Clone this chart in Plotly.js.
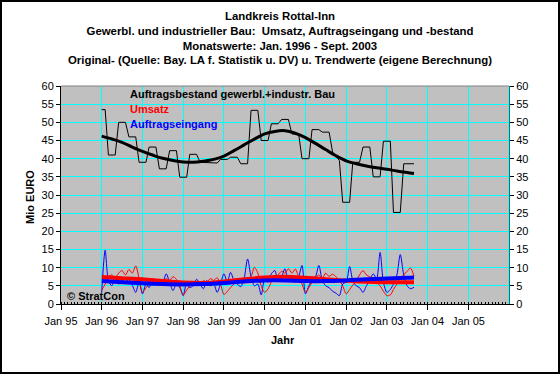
<!DOCTYPE html>
<html>
<head>
<meta charset="utf-8">
<script src="https://cdn.plot.ly/plotly-3.0.1.min.js"></script>
<style>
html,body{margin:0;padding:0;background:#fff;}
#chart{width:556px;height:370px;border:2px solid #000;}
</style>
</head>
<body>
<div id="chart"></div>
<script>
// ---- data (monthly values, Jan 1996 .. Sept 2003) ----
const startYear = 1996;
const monthCount = 93;

const auftragsbestand = [
  53.5, 53.5,
  41, 41, 41,   50, 50, 50,   46, 46, 46,   39, 39, 39,
  43.2, 43.2, 43.2,   37.2, 37.2, 37.2,   42.2, 42.2, 42.2,   34.9, 34.9, 34.9,
  41.2, 41.2, 41.2,   39, 39, 39,   38.8, 38.8, 38.8,   39.8, 39.8, 39.8,
  40.4, 40.4, 40.4,   38.6, 38.6, 38.6,   53.3, 53.3, 53.3,   45, 45, 45,
  49.6, 49.6, 49.6,   50.8, 50.8, 50.8,   46.8, 46.8, 46.8,   40, 40, 40,
  48, 48, 48,   47.3, 47.3, 47.3,   41.8, 40.6, 39.5,   28, 28, 28,
  39, 39, 39,   43.2, 43.2, 43.2,   35, 35, 35,   44.8, 44.8, 44.8,
  25.2, 25.2, 25.2,   38.6, 38.6, 38.6,
  38.6
];

const umsatz = [
  3.8, 5.5, 7.5, 8, 7.2, 8.5, 9.2, 8, 9.5, 8.5, 10.5, 7,
  3.2, 4.5, 5.5, 6.5, 6, 6.8, 6.2, 7, 6.5, 7.5, 6.8, 5,
  2.5, 3.8, 5, 5.8, 6.2, 5.5, 6.5, 6, 7, 6.5, 7.2, 5.5,
  2.6, 3.5, 4.5, 5.5, 6.5, 6, 7, 6.8, 7.5, 10.1, 8.5, 5,
  3.2, 4.2, 6, 7, 8, 9, 8.5, 9.7, 8.5, 9.6, 7.5, 5.5,
  3.2, 4.5, 6, 7.2, 8, 7, 8.5, 7.6, 8.2, 7.5, 6.5, 5,
  2.8, 4, 5.2, 6.5, 8, 9.2, 8, 7.5, 7, 6, 5, 3.5,
  2.3, 2.5, 4, 5.5, 7, 8, 9, 9.9, 7.6
];

const auftragseingang = [
  3.2, 14.8, 6.5, 5, 7.5, 5.5, 6.5, 5.8, 6.8, 5.2, 3.2, 6,
  2.8, 5.5, 4.5, 6.8, 5.2, 6.5, 6, 8.3, 6, 3.7, 5.5, 4.5,
  2.3, 6, 4.5, 5.1, 6.8, 5.5, 4.2, 6.5, 5, 5.5, 3.2, 5.5,
  8.3, 6, 8.7, 6.5, 5.5, 4.8, 7, 12.4, 7.5, 5, 5.5, 2.5,
  6.8, 6, 8.3, 9.2, 6.4, 7.5, 9.7, 6.4, 7, 6, 7.5, 10.6,
  2.8, 5, 6.5, 7.5, 10.6, 6.5, 5, 4.5, 3.5, 3, 2.3, 5.5,
  6, 10.3, 6.5, 5, 4.5, 3.2, 5, 6.5, 8.3, 7, 14.2, 6,
  3.2, 4, 5.5, 8, 13.6, 8, 5, 4.2, 4.6
];

// trend values (read at sample months, index from Jan 1996)
const bestandTrendMonths = [0,3,6,9,12,15,18,21,24,27,30,33,36,39,42,45,48,51,54,57,60,63,66,69,72,75,78,81,84,87,90,92];
const bestandTrend = [46.2,45.4,44.5,43.2,42,41,40.1,39.5,39.1,39,39.3,39.8,40.7,42.2,43.8,45.4,46.8,47.5,47.7,47,45.8,44.2,42.5,40.8,39.4,38.6,38,37.5,37.1,36.6,36.2,35.9];

const smallTrendMonths = [0,6,12,18,24,30,36,42,48,54,60,66,72,78,84,90,92];
const umsatzTrend = [7.4,7.1,6.8,6.3,5.9,5.8,6.2,6.8,7.3,7.5,7.2,6.8,6.4,6.1,6.0,6.0,6.0];
const eingangTrend = [6.3,6.0,5.7,5.5,5.4,5.5,5.8,6.2,6.5,6.5,6.3,6.3,6.5,6.8,7.0,7.2,7.3];

const titleLines = [
  "Landkreis Rottal-Inn",
  "Gewerbl. und industrieller Bau:  Umsatz, Auftragseingang und -bestand",
  "Monatswerte: Jan. 1996 - Sept. 2003",
  "Original- (Quelle: Bay. LA f. Statistik u. DV) u. Trendwerte (eigene Berechnung)"
];
const seriesNames = ["Auftragsbestand gewerbl.+industr. Bau", "Umsatz", "Auftragseingang"];
const xTitle = "Jahr";
const yTitle = "Mio EURO";
const credit = "© StratCon";

// ---- helpers ----
function monthDate(i) {
  const d = new Date(Date.UTC(startYear, i, 1));
  return d.getUTCFullYear() + "-" + String(d.getUTCMonth() + 1).padStart(2, "0") + "-01";
}
const months = [];
for (let i = 0; i < monthCount; i++) months.push(monthDate(i));
const toDates = arr => arr.map(monthDate);

const FONT = "Liberation Sans, Arial, sans-serif";

const traces = [
  {x: months, y: auftragseingang, type: "scatter", mode: "lines",
   line: {color: "#0000ff", width: 1, shape: "spline", smoothing: 0.8}, hoverinfo: "skip"},
  {x: months, y: umsatz, type: "scatter", mode: "lines",
   line: {color: "#ff0000", width: 1, shape: "spline", smoothing: 0.8}, hoverinfo: "skip"},
  {x: toDates(smallTrendMonths), y: umsatzTrend, type: "scatter", mode: "lines",
   line: {color: "#ff0000", width: 4, shape: "spline"}, hoverinfo: "skip"},
  {x: toDates(smallTrendMonths), y: eingangTrend, type: "scatter", mode: "lines",
   line: {color: "#0000ff", width: 4, shape: "spline"}, hoverinfo: "skip"},
  {x: months, y: auftragsbestand, type: "scatter", mode: "lines", yaxis: "y2",
   line: {color: "#000000", width: 1}, hoverinfo: "skip"},
  {x: toDates(bestandTrendMonths), y: bestandTrend, type: "scatter", mode: "lines", yaxis: "y2",
   line: {color: "#000000", width: 3, shape: "spline"}, hoverinfo: "skip"}
];

const yCommon = {
  range: [0, 60], dtick: 5, tick0: 0, zeroline: false,
  showline: true, linecolor: "#000", linewidth: 1,
  ticks: "outside", ticklen: 4, tickcolor: "#000",
  tickfont: {family: FONT, size: 11, color: "#000"}
};

const layout = {
  width: 556, height: 370,
  margin: {l: 59, r: 49, t: 84, b: 68, pad: 0},
  paper_bgcolor: "#ffffff",
  plot_bgcolor: "#c0c0c0",
  showlegend: false,
  font: {family: FONT, size: 11, color: "#000"},
  title: {
    text: "<b>" + titleLines.join("<br>") + "</b>",
    font: {family: FONT, size: 11.4, color: "#000"},
    x: 0.5, xref: "container", xanchor: "center",
    y: 1 - 18/370, yref: "container", yanchor: "top"
  },
  xaxis: {
    type: "date",
    range: ["1995-01-01", "2005-12-31"],
    tick0: "1995-01-01", dtick: "M12", tickformat: "%b %y",
    showgrid: true, gridcolor: "#00ffff", gridwidth: 1,
    zeroline: false, showline: true, linecolor: "#000", linewidth: 1,
    ticks: "outside", ticklen: 5, tickcolor: "#000",
    ticklabelstandoff: 2,
    minor: {ticks: "inside", ticklen: 2, dtick: "M1", tick0: "1995-01-01", tickcolor: "#000", showgrid: false},
    tickfont: {family: FONT, size: 11, color: "#000"}
  },
  yaxis: Object.assign({}, yCommon, {showgrid: true, gridcolor: "#00ffff", gridwidth: 1, side: "left"}),
  yaxis2: Object.assign({}, yCommon, {showgrid: false, overlaying: "y", side: "right"}),
  shapes: [
    {type: "line", xref: "paper", yref: "paper", x0: 0, x1: 1, y0: 1, y1: 1,
     line: {color: "#808080", width: 1}},
    {type: "line", xref: "paper", yref: "paper", x0: 1, x1: 1, y0: 0, y1: 1,
     line: {color: "#00ffff", width: 1}}
  ],
  annotations: [
    {text: "<b>" + seriesNames[0] + "</b>", xref: "paper", yref: "paper", x: 0.150, y: 0.962,
     xanchor: "left", yanchor: "middle", showarrow: false, font: {family: FONT, size: 11, color: "#000"}},
    {text: "<b>" + seriesNames[1] + "</b>", xref: "paper", yref: "paper", x: 0.150, y: 0.893,
     xanchor: "left", yanchor: "middle", showarrow: false, font: {family: FONT, size: 11, color: "#ff0000"}},
    {text: "<b>" + seriesNames[2] + "</b>", xref: "paper", yref: "paper", x: 0.150, y: 0.826,
     xanchor: "left", yanchor: "middle", showarrow: false, font: {family: FONT, size: 11, color: "#0000ff"}},
    {text: "<b>" + credit + "</b>", xref: "paper", yref: "paper", x: 0.008, y: 0.035,
     xanchor: "left", yanchor: "middle", showarrow: false, font: {family: FONT, size: 11, color: "#000"}},
    {text: "<b>" + yTitle + "</b>", xref: "paper", yref: "paper", x: -0.063, y: 0.49,
     xanchor: "center", yanchor: "middle", textangle: -90, showarrow: false, xshift: -3,
     font: {family: FONT, size: 11, color: "#000"}},
    {text: "<b>" + xTitle + "</b>", xref: "paper", yref: "paper", x: 0.495, y: -0.165,
     xanchor: "center", yanchor: "middle", showarrow: false,
     font: {family: FONT, size: 11, color: "#000"}}
  ]
};

Plotly.newPlot("chart", traces, layout, {displayModeBar: false, staticPlot: true});
</script>
</body>
</html>
